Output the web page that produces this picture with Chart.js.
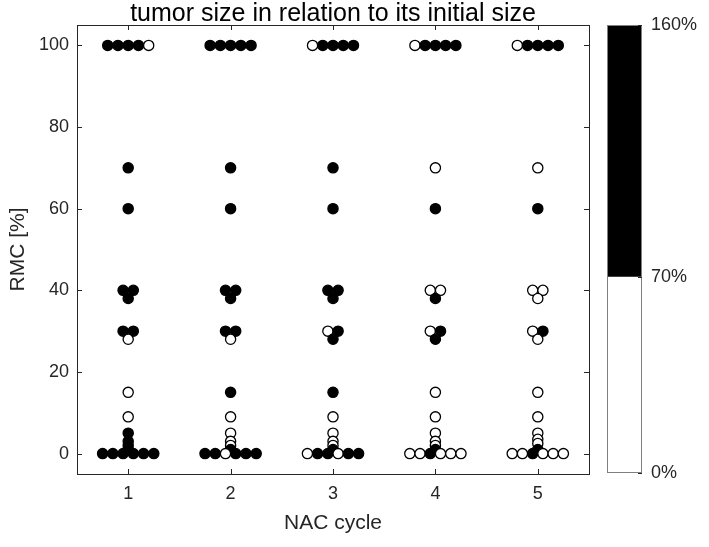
<!DOCTYPE html>
<html><head><meta charset="utf-8">
<script src="https://cdn.jsdelivr.net/npm/chart.js@4/dist/chart.umd.min.js"></script>
<style>
html,body{margin:0;padding:0;background:#fff;overflow:hidden}
#wrap{position:relative;width:709px;height:547px;background:#fff}
#main{position:absolute;left:0;top:0}
#cbar{position:absolute;left:595px;top:0}
</style></head><body>
<div id="wrap">
<canvas id="main" width="600" height="547"></canvas>
<canvas id="cbar" width="114" height="547"></canvas>
</div>
<script>
// ---- data ----
const cycles = [1, 2, 3, 4, 5];
const yTickValues = [0, 20, 40, 60, 80, 100];
const colorbarTicks = [0, 70, 160];

// RMC [%] per patient for each NAC cycle
const rmcCycle1 = [100,100,100,100,100, 70, 60, 40,40,38, 30,30,28, 15, 9, 5,3,2,1, 0,0,0,0,0,0];
const rmcCycle2 = [100,100,100,100,100, 70, 60, 40,40,38, 30,30,28, 15, 9, 5,3,2,1, 0,0,0,0,0,0];
const rmcCycle3 = [100,100,100,100,100, 70, 60, 40,40,38, 30,30,28, 15, 9, 5,3,2,1, 0,0,0,0,0,0];
const rmcCycle4 = [100,100,100,100,100, 70, 60, 40,40,38, 30,30,28, 15, 9, 5,3,2,1, 0,0,0,0,0,0];
const rmcCycle5 = [100,100,100,100,100, 70, 60, 40,40,38, 30,30,28, 15, 9, 5,3.5,2.5,1, 0,0,0,0,0,0];

// tumor size >= 70% of initial size (1 = filled marker, 0 = open marker)
const bigCycle1 = [1,1,1,1,0, 1, 1, 1,1,1, 1,1,0, 0, 0, 1,1,1,1, 1,1,1,1,1,1];
const bigCycle2 = [1,1,1,1,1, 1, 1, 1,1,1, 1,1,0, 1, 0, 0,0,0,1, 1,1,0,1,1,1];
const bigCycle3 = [0,1,1,1,1, 1, 1, 1,1,1, 0,1,1, 1, 0, 0,0,0,1, 0,1,1,0,1,1];
const bigCycle4 = [0,1,1,1,1, 0, 1, 0,0,1, 0,1,1, 0, 0, 0,0,0,1, 0,0,1,0,0,0];
const bigCycle5 = [0,1,1,1,1, 0, 1, 0,0,0, 0,1,0, 0, 0, 0,0,0,1, 0,0,1,0,0,0];

const rmcSets = [rmcCycle1, rmcCycle2, rmcCycle3, rmcCycle4, rmcCycle5];
const bigSets = [bigCycle1, bigCycle2, bigCycle3, bigCycle4, bigCycle5];

// ---- style ----
const FONT = '"Liberation Sans", Arial, Helvetica, sans-serif';
const TXT = '#262626';
const SPREAD = 0.1; // horizontal spacing of equal values (swarm)

function swarmPoints(cycle, rmc) {
  const counts = {}, seen = {};
  rmc.forEach(v => counts[v] = (counts[v] || 0) + 1);
  return rmc.map(v => {
    const k = seen[v] = (seen[v] === undefined ? 0 : seen[v] + 1);
    return { x: cycle + (k - (counts[v] - 1) / 2) * SPREAD, y: v };
  });
}

const datasets = cycles.map((c, i) => ({
  data: swarmPoints(c, rmcSets[i]),
  pointBackgroundColor: bigSets[i].map(b => b ? '#000000' : '#ffffff'),
  pointBorderColor: '#000000',
  pointBorderWidth: 1.3,
  pointRadius: 5.1,
  pointHoverRadius: 5.1,
  showLine: false
}));

const axesBox = {
  id: 'axesBox',
  beforeDatasetsDraw(chart) {
    const { ctx, chartArea: a, scales: { x, y } } = chart;
    ctx.save();
    ctx.strokeStyle = TXT; ctx.lineWidth = 1;
    ctx.strokeRect(Math.round(a.left) + 0.5, Math.round(a.top) + 0.5,
      Math.round(a.right - a.left), Math.round(a.bottom - a.top));
    ctx.beginPath();
    cycles.forEach(v => {
      const px = Math.round(x.getPixelForValue(v)) + 0.5;
      ctx.moveTo(px, a.bottom); ctx.lineTo(px, a.bottom - 5);
      ctx.moveTo(px, a.top); ctx.lineTo(px, a.top + 5);
    });
    yTickValues.forEach(v => {
      const py = Math.round(y.getPixelForValue(v)) + 0.5;
      ctx.moveTo(a.left, py); ctx.lineTo(a.left + 5, py);
      ctx.moveTo(a.right, py); ctx.lineTo(a.right - 5, py);
    });
    ctx.stroke();
    ctx.restore();
  },
  afterDraw(chart) {
    const { ctx, chartArea: a } = chart;
    ctx.save();
    ctx.fillStyle = '#000';
    ctx.font = '25px ' + FONT;
    ctx.textAlign = 'center';
    ctx.textBaseline = 'alphabetic';
    ctx.fillText('tumor size in relation to its initial size', (a.left + a.right) / 2, 21);
    ctx.restore();
  }
};

new Chart(document.getElementById('main'), {
  type: 'scatter',
  data: { datasets },
  plugins: [axesBox],
  options: {
    responsive: false,
    animation: false,
    events: [],
    layout: { padding: { top: 25, right: 11, left: 0, bottom: 0 } },
    plugins: { legend: { display: false }, tooltip: { enabled: false } },
    scales: {
      x: {
        type: 'linear', min: 0.5, max: 5.5,
        afterBuildTicks: s => { s.ticks = cycles.map(v => ({ value: v })); },
        afterFit: s => { s.height = 73; },
        ticks: { font: { family: FONT, size: 18 }, color: TXT, padding: 9 },
        grid: { display: false, drawTicks: false },
        border: { display: false },
        title: { display: true, text: 'NAC cycle', color: TXT, font: { family: FONT, size: 21 }, padding: { top: 0, bottom: 11 } }
      },
      y: {
        type: 'linear', min: -5, max: 105,
        afterBuildTicks: s => { s.ticks = yTickValues.map(v => ({ value: v })); },
        afterFit: s => { s.width = 77; },
        ticks: { font: { family: FONT, size: 18 }, color: TXT, padding: 8 },
        grid: { display: false, drawTicks: false },
        border: { display: false },
        title: { display: true, text: 'RMC [%]', color: TXT, font: { family: FONT, size: 21 }, padding: { top: 6, bottom: 0 } }
      }
    }
  }
});

const cbarBox = {
  id: 'cbarBox',
  afterDatasetsDraw(chart) {
    const { ctx, chartArea: a, scales: { y } } = chart;
    ctx.save();
    ctx.strokeStyle = '#7f7f7f'; ctx.lineWidth = 1;
    ctx.strokeRect(Math.round(a.left) + 0.5, Math.round(a.top) + 0.5,
      Math.round(a.right - a.left) - 1, Math.round(a.bottom - a.top) - 1);
    ctx.strokeStyle = TXT;
    ctx.beginPath();
    colorbarTicks.forEach(v => {
      const py = Math.round(y.getPixelForValue(v)) + 0.5;
      ctx.moveTo(a.right - 4, py); ctx.lineTo(a.right, py);
    });
    ctx.stroke();
    ctx.restore();
  }
};

new Chart(document.getElementById('cbar'), {
  type: 'bar',
  data: {
    labels: [''],
    datasets: [
      { data: [colorbarTicks[1] - colorbarTicks[0]], backgroundColor: '#ffffff' },
      { data: [colorbarTicks[2] - colorbarTicks[1]], backgroundColor: '#000000' }
    ]
  },
  plugins: [cbarBox],
  options: {
    responsive: false,
    animation: false,
    events: [],
    layout: { padding: { top: 25, bottom: 74, left: 12, right: 0 } },
    plugins: { legend: { display: false }, tooltip: { enabled: false } },
    datasets: { bar: { barPercentage: 1, categoryPercentage: 1, borderWidth: 0 } },
    scales: {
      x: { stacked: true, display: false },
      y: {
        stacked: true, position: 'right', min: 0, max: 160,
        afterBuildTicks: s => { s.ticks = colorbarTicks.map(v => ({ value: v })); },
        afterFit: s => { s.width = 67; },
        ticks: { font: { family: FONT, size: 18 }, color: TXT, padding: 9, callback: v => v + '%' },
        grid: { display: false, drawTicks: false },
        border: { display: false }
      }
    }
  }
});
</script>
</body></html>
